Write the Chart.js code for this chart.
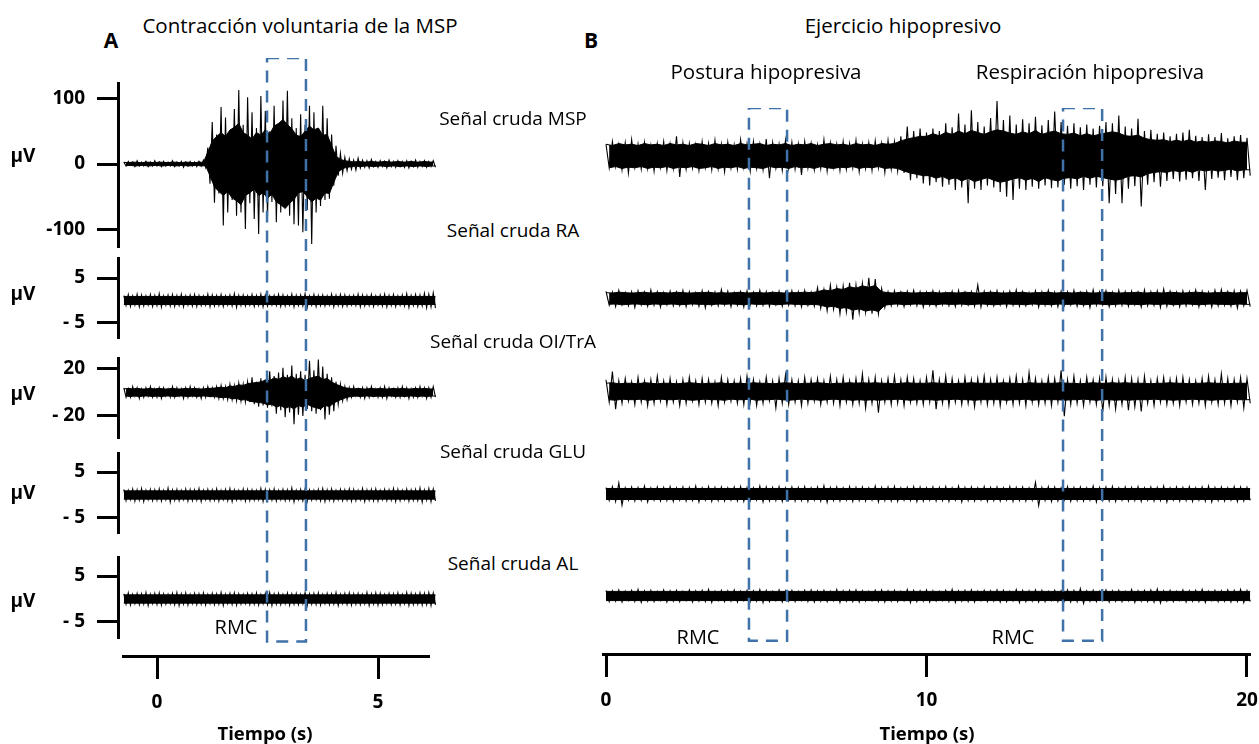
<!DOCTYPE html>
<html>
<head>
<meta charset="utf-8">
<script src="https://cdn.jsdelivr.net/npm/chart.js@4.4.0/dist/chart.umd.min.js"></script>
<style>
body { margin: 0; background: #fff; }
#fig { position: relative; width: 1259px; height: 744px; overflow: hidden; background: #fff; }
#fig canvas { position: absolute; }
.lbl { position: absolute; transform: translate(-50%, -50%); line-height: 1; white-space: nowrap; color: #000; font-family: 'Open Sans', sans-serif; }
</style>
</head>
<body>
<div id="fig"></div>
<script>
// time grid of the traces
const tA0 = -0.75, dtA = 0.1;   // panel A, 71 bins
const tB0 = 0, dtB = 0.2;       // panel B, 101 bins

// Panel A - contraccion voluntaria (uV)
// *Core / *Band = dense part of the signal, *Hi / *Lo / *Amp = spike tips
const mspACore = [2.5,2,3,2.5,2,3,2.5,2,3,2.5,2,3,2.5,2,3,2.5,2,3,2.5,
  18,35,42,48,42,52,56,62,48,44,38,48,44,52,46,58,62,68,60,54,44,42,50,58,52,55,44,45,28,12,7,5,
  4,3,4,3,3,4,3,3,4,3,3,4,3,3,4,3,3,4,3,3];
const mspAHi = [3,4,3,5,3,4,3,5,3,4,3,5,3,4,3,4,3,4,6,
  25,64,45,87,71,52,84,113,60,102,79,55,104,81,50,89,62,97,112,70,55,76,60,89,79,55,89,70,45,28,16,10,8,6,9,
  6,5,7,4,5,4,6,4,5,4,5,4,6,4,5,4,5];
const mspALo = [-3,-2,-4,-3,-3,-4,-3,-3,-4,-3,-3,-4,-3,-5,-3,-3,-4,-3,-5,
  -30,-59,-45,-94,-74,-55,-79,-74,-99,-60,-84,-107,-74,-79,-58,-89,-74,-60,-79,-92,-94,-104,-70,-122,-74,-64,-55,-53,-33,-18,-14,-10,-8,-9,-6,
  -5,-6,-4,-5,-4,-6,-4,-5,-4,-5,-6,-4,-5,-4,-5,-4,-5];
const raABand = 0.9;
const raAAmp = [1.1,1.3,1.0,1.4,1.2,1.0,1.3,1.1,1.5,1.0,
  1.2,1.3,1.1,1.4,1.0,1.2,1.3,1.1,1.0,1.4,
  1.2,1.1,1.3,1.0,1.2,1.5,1.1,1.2,1.0,1.3,
  1.1,1.4,1.2,1.0,1.1,1.3,1.2,1.0,1.4,1.1,
  1.2,1.5,1.0,1.3,1.1,1.2,1.0,1.4,1.1,1.3,
  1.2,1.0,1.1,1.4,1.2,1.1,1.3,1.0,1.2,1.4,
  1.1,1.3,1.0,1.2,1.5,1.1,1.3,1.2,1.6,1.4,1.7];
const oiACore = [3,3.5,3,3.5,3,3,3.5,3,3.5,3,3,3.5,3,3,3.5,3,3.5,3,3,3.5,3.5,
  4,4.5,4,5.5,5,6.5,6,7.5,8,8.5,9,10.5,10,12.5,11,13.5,12,14,11,12.5,10,12,13,14,11,12,9,7,5.5,4,
  3.5,3,3.5,3,3,3.5,3,3.5,3,3,3.5,3,3.5,3,3,3.5,3,3.5,3,3];
const oiAHi = [4,3,5,4,3,4,5,3,4,4,3,5,4,3,4,5,4,3,4,5,4,
  5,6,5,7,6,8,7,9,13,9,12,11,18,14,17,21,15,23,16,18,15,27,19,28,22,16,13,9,7,5,
  4,5,3,4,4,5,3,4,5,4,3,4,5,4,3,4,5,4,4,5];
const oiALo = [-4,-4,-3,-5,-4,-3,-4,-4,-5,-3,-4,-4,-3,-5,-4,-3,-4,-5,-4,-3,-4,
  -5,-5,-6,-6,-7,-7,-8,-8,-10,-12,-11,-13,-12,-18,-15,-21,-17,-27,-19,-20,-14,-16,-18,-15,-23,-19,-16,-10,-7,-6,
  -4,-3,-4,-5,-4,-3,-4,-4,-5,-3,-4,-4,-3,-5,-4,-4,-3,-5,-4,-4];
const gluABand = 0.9;
const gluAAmp = [1.2,1.0,1.3,1.1,1.4,1.0,1.2,1.1,1.3,1.0,
  1.5,1.1,1.2,1.0,1.3,1.2,1.1,1.4,1.0,1.2,
  1.1,1.3,1.0,1.2,1.4,1.1,1.0,1.3,1.2,1.1,
  1.0,1.4,1.2,1.1,1.3,1.0,1.2,1.1,1.5,1.0,
  1.2,1.3,1.1,1.0,1.2,1.4,1.1,1.3,1.0,1.2,
  1.1,1.3,1.2,1.0,1.4,1.1,1.2,1.3,1.0,1.2,
  1.1,1.4,1.2,1.0,1.3,1.1,1.2,1.5,1.1,1.4,1.3];
const alABand = 0.9;
const alAAmp = [1.1,1.3,1.0,1.2,1.1,1.4,1.0,1.2,1.3,1.1,
  1.0,1.2,1.4,1.1,1.3,1.0,1.2,1.1,1.3,1.0,
  1.2,1.1,1.4,1.0,1.2,1.3,1.1,1.0,1.2,1.1,
  1.3,1.0,1.2,1.4,1.1,1.2,1.0,1.3,1.1,1.2,
  1.0,1.4,1.1,1.2,1.3,1.0,1.2,1.1,1.4,1.0,
  1.2,1.3,1.1,1.2,1.0,1.4,1.1,1.3,1.2,1.0,
  1.2,1.1,1.3,1.0,1.4,1.2,1.1,1.3,1.2,1.4,1.3];

// Panel B - ejercicio hipopresivo (uV)
const mspBCore = [18,16,19,17,18,16,19,17,18,16,
  19,17,18,16,19,18,16,19,17,18,
  16,19,17,18,19,16,18,17,19,16,
  18,17,19,16,18,19,17,18,16,19,
  17,18,16,19,18,19,23,26,28,30,
  30,34,31,36,33,38,34,39,36,33,
  37,40,38,35,33,37,34,39,33,36,
  38,34,33,35,31,34,31,33,35,37,
  35,31,30,32,27,25,24,25,22,24,
  22,25,21,23,21,23,22,20,23,21,21];
const mspBHi = [18,22,17,20,25,18,21,16,19,22,
  18,30,20,19,17,22,19,24,18,21,
  17,25,19,22,18,26,20,18,24,21,
  18,22,19,17,25,20,18,22,19,24,
  18,20,23,19,24,22,30,45,38,42,
  36,42,38,50,44,65,48,70,52,45,
  58,84,55,62,48,56,50,60,47,55,
  68,52,46,50,44,48,42,46,52,50,
  62,45,42,57,38,40,34,36,30,34,
  36,40,31,29,33,29,35,27,30,32,28];
const mspBLo = [-18,-16,-21,-26,-17,-20,-19,-23,-17,-22,
  -19,-32,-20,-18,-22,-17,-21,-19,-24,-18,
  -20,-17,-23,-19,-21,-34,-18,-22,-19,-20,
  -29,-18,-21,-19,-23,-17,-22,-20,-18,-24,
  -19,-22,-18,-25,-20,-23,-26,-37,-34,-42,
  -45,-40,-47,-44,-52,-48,-72,-50,-52,-45,
  -48,-55,-62,-67,-50,-52,-47,-50,-45,-49,
  -48,-44,-50,-46,-52,-44,-48,-46,-72,-58,
  -72,-50,-46,-77,-44,-40,-47,-38,-35,-39,
  -36,-34,-38,-52,-35,-33,-37,-32,-37,-34,-30];
const raBCore = [1.3,1.2,1.4,1.3,1.2,1.3,1.4,1.2,1.3,1.3,
  1.2,1.4,1.3,1.2,1.3,1.3,1.4,1.2,1.3,1.2,
  1.3,1.4,1.2,1.3,1.3,1.2,1.4,1.3,1.2,1.3,
  1.3,1.4,1.3,1.5,1.9,1.7,2.2,2.0,2.6,2.3,
  2.8,2.5,2.9,1.5,1.3,1.2,1.4,1.3,1.2,1.3,
  1.3,1.4,1.2,1.3,1.3,1.2,1.4,1.3,1.2,1.3,
  1.4,1.3,1.2,1.3,1.3,1.4,1.2,1.3,1.3,1.4,
  1.2,1.3,1.3,1.2,1.4,1.3,1.2,1.3,1.4,1.3,
  1.2,1.3,1.3,1.4,1.2,1.3,1.3,1.2,1.4,1.3,
  1.2,1.3,1.4,1.3,1.2,1.3,1.3,1.4,1.2,1.3,1.3];
const raBHi = [1.6,1.4,1.8,1.3,1.5,1.7,1.4,1.9,1.5,1.3,
  1.6,1.4,1.8,1.5,1.3,1.7,1.5,1.4,2.0,1.6,
  1.3,1.5,1.7,1.4,1.8,1.5,1.3,1.6,1.4,1.7,
  1.5,1.8,1.4,2.4,2.0,3.0,2.5,2.8,3.5,3.0,
  3.4,4.6,4.3,2.2,1.5,1.7,1.4,1.6,1.8,1.5,
  1.4,1.7,1.5,1.3,1.6,1.8,1.4,1.5,3.0,1.6,
  1.5,1.7,1.4,1.6,1.9,1.5,1.3,1.7,1.5,1.8,
  1.4,1.6,1.5,1.8,1.3,1.6,1.9,1.5,1.7,1.4,
  1.8,1.5,1.6,1.4,1.9,1.5,1.7,2.1,1.6,1.4,
  1.7,1.5,1.9,1.6,1.4,1.8,2.0,1.5,1.7,1.6,1.8];
const raBLo = [-1.5,-1.8,-1.4,-1.6,-2.0,-1.4,-1.7,-1.5,-1.9,-1.4,
  -1.6,-1.5,-1.8,-1.4,-1.7,-2.1,-1.5,-1.6,-1.4,-1.8,
  -1.5,-1.9,-1.4,-1.6,-1.5,-1.8,-1.4,-1.7,-1.5,-1.6,
  -1.9,-1.5,-1.7,-2.2,-2.7,-2.4,-3.4,-3.0,-4.7,-3.2,
  -3.0,-3.4,-3.4,-2.0,-1.6,-1.5,-1.8,-1.4,-1.6,-1.9,
  -1.5,-1.7,-1.4,-1.6,-1.8,-1.5,-1.4,-1.7,-1.9,-1.5,
  -1.6,-1.4,-1.8,-1.5,-1.7,-1.6,-1.4,-1.9,-1.5,-1.6,
  -1.8,-1.5,-1.4,-1.7,-1.6,-2.0,-1.5,-1.4,-1.8,-1.6,
  -1.5,-1.7,-1.4,-1.9,-1.6,-1.5,-2.0,-1.7,-1.5,-1.8,
  -1.6,-1.4,-1.8,-1.5,-1.9,-1.6,-1.5,-1.7,-2.1,-1.6,-1.8];
const oiBCore = [7,7.5,6.5,7,7,6.5,7.5,7,6.5,7,
  7,6.5,7,7.5,7,6.5,7,7,7.5,6.5,
  7,7,6.5,7.5,7,7,6.5,7,7.5,7,
  6.5,7,7,7.5,7,6.5,7,7,7.5,7,
  7.5,7,7.5,7,7,6.5,7,7.5,7,7,
  7,7.5,7,7,6.5,7,7,7.5,7,7,
  7,7,7.5,7,7,6.5,7.5,7,7,7,
  7,7.5,7,7,6.5,7,7.5,7,7,7.5,
  7,7.5,7,7,7,6.5,7,7,7.5,7,
  7,6.5,7,7,7.5,7,7,6.5,7,7,7];
const oiBHi = [10,17,9,11,8,12,9,10,13,9,
  11,8,10,12,9,11,10,8,12,10,
  9,11,13,10,8,12,9,11,14,10,
  9,12,10,11,9,13,10,12,9,11,
  15,10,12,9,11,13,10,12,11,9,
  12,18,10,13,11,9,12,10,11,13,
  10,12,9,11,13,10,16,11,9,12,
  11,18,10,13,9,12,10,11,12,10,
  9,12,11,10,13,9,11,12,10,11,
  12,10,9,11,13,10,15,11,10,12,11];
const oiBLo = [-9,-15,-10,-8,-11,-9,-12,-10,-8,-11,
  -9,-12,-10,-8,-11,-9,-10,-12,-9,-8,
  -10,-11,-9,-12,-10,-8,-14,-10,-11,-9,
  -12,-10,-8,-11,-9,-10,-12,-9,-11,-10,
  -14,-10,-18,-9,-11,-10,-12,-9,-10,-11,
  -9,-15,-10,-12,-9,-11,-10,-13,-9,-11,
  -10,-12,-9,-11,-10,-12,-9,-11,-10,-12,
  -9,-21,-11,-10,-12,-9,-11,-17,-12,-15,
  -11,-16,-13,-17,-10,-12,-9,-11,-10,-12,
  -9,-11,-10,-12,-9,-11,-10,-12,-9,-14,-10];
const gluBBand = 1.2;
const gluBAmp = [1.4,1.6,2.4,1.3,1.5,1.4,1.7,1.3,1.5,1.4,
  1.6,1.3,1.5,1.4,1.7,1.3,1.6,1.4,1.5,1.3,
  1.5,1.6,1.4,1.3,1.7,1.5,1.4,1.6,1.3,1.5,
  1.4,1.6,1.3,1.5,1.8,1.4,1.5,1.3,1.6,1.4,
  1.5,1.3,1.7,1.4,1.5,1.6,1.3,1.4,1.6,1.5,
  1.3,1.5,1.4,1.6,1.3,1.7,1.4,1.5,1.3,1.6,
  1.4,1.5,1.3,1.6,1.4,1.5,1.3,2.5,1.4,1.6,
  1.5,1.3,1.6,1.4,1.5,1.3,1.7,1.4,1.5,1.6,
  1.3,1.5,1.4,1.6,1.3,1.5,1.4,1.7,1.3,1.5,
  1.4,1.6,1.3,1.5,1.7,1.4,1.5,1.3,1.6,1.5,1.4];
const alBBand = 1.0;
const alBAmp = [1.2,1.1,1.3,1.0,1.2,1.4,1.1,1.2,1.0,1.3,
  1.1,1.2,1.0,1.3,1.1,1.2,1.4,1.0,1.2,1.1,
  1.3,1.0,1.2,1.1,1.4,1.2,1.0,1.3,1.1,1.2,
  1.0,1.2,1.3,1.1,1.2,1.0,1.4,1.1,1.2,1.3,
  1.1,1.0,1.2,1.3,1.1,1.2,1.0,1.4,1.2,1.1,
  1.3,1.1,1.0,1.2,1.4,1.1,1.2,1.3,1.0,1.2,
  1.1,1.3,1.2,1.0,1.4,1.2,1.1,1.3,1.2,1.0,
  1.2,1.1,1.3,1.2,1.6,1.1,1.2,1.0,1.3,1.1,
  1.2,1.0,1.4,1.1,1.2,1.3,1.5,1.1,1.2,1.0,
  1.3,1.1,1.2,1.4,1.0,1.2,1.1,1.3,1.2,1.4,1.2];

// ticks, windows (s) and texts
const mspTicks = [100, 0, -100], mspTickLabels = ['100', '0', '-100'];
const smallTicks = [5, -5], smallTickLabels = ['5', '- 5'];
const oiTicks = [20, -20], oiTickLabels = ['20', '- 20'];
const timeTicksA = [0, 5], timeTicksB = [0, 10, 20];
const rmcA = [[2.49, 3.37]];
const rmcB = [[4.46, 5.65], [14.26, 15.48]];
const rowNames = ['Señal cruda MSP', 'Señal cruda RA', 'Señal cruda OI/TrA', 'Señal cruda GLU', 'Señal cruda AL'];

const fig = document.getElementById('fig');
const boldFont = { family: 'Open Sans', weight: 'bold', size: 19 };

// pixel mapping of the time axes
const zeroA = 157, pxSecA = 44.2;
const zeroB = 606, pxSecB = 32.05;

function addCanvas(left, top, w, h) {
  const c = document.createElement('canvas');
  c.width = w; c.height = h;
  c.style.left = left + 'px'; c.style.top = top + 'px';
  c.style.width = w + 'px'; c.style.height = h + 'px';
  fig.appendChild(c);
  return c;
}

// dense part: filled between +core and -core (array per bin, or one level)
function band(o) {
  if (Array.isArray(o.core)) {
    return [
      o.core.map((v, i) => ({ x: o.t0 + i * o.dt, y: v })),
      o.core.map((v, i) => ({ x: o.t0 + i * o.dt + o.dt / 2, y: -v }))
    ];
  }
  const tEnd = o.t0 + (o.hi.length - 0.5) * o.dt;
  return [
    [{ x: o.t0, y: o.core }, { x: tEnd, y: o.core }],
    [{ x: o.t0, y: -o.core }, { x: tEnd, y: -o.core }]
  ];
}

// spikes: one high and one low sample per bin
function trace(t0, dt, hi, lo) {
  const pts = [];
  hi.forEach((v, i) => {
    const t = t0 + i * dt;
    pts.push({ x: t, y: v });
    pts.push({ x: t + dt / 2, y: lo ? lo[i] : -v });
  });
  return pts;
}

function rowChart(o) {
  const c = addCanvas(o.left, o.top, o.width, o.height);
  const y = { type: 'linear', min: o.min, max: o.max, display: !!o.ticks };
  if (o.ticks) {
    Object.assign(y, {
      position: 'left',
      afterFit: s => { s.width = o.axisW; s.paddingTop = 0; s.paddingBottom = 0; },
      afterBuildTicks: s => { s.ticks = o.ticks.map(v => ({ value: v })); },
      ticks: { callback: (v, i) => o.labels[i], color: '#000', font: boldFont, padding: 12 },
      grid: { drawOnChartArea: false, tickLength: 21, tickWidth: 3, tickColor: '#000' },
      border: { display: true, width: 3, color: '#000' }
    });
  }
  const [up, dn] = band(o);
  const datasets = [
    { data: up, borderColor: '#000', backgroundColor: '#000', borderWidth: 1, pointRadius: 0, tension: 0, fill: '+1' },
    { data: dn, borderColor: '#000', borderWidth: 1, pointRadius: 0, tension: 0, fill: false },
    { data: trace(o.t0, o.dt, o.hi, o.lo), borderColor: '#000', borderWidth: 1.1, pointRadius: 0, tension: 0, fill: false }
  ];
  new Chart(c, {
    type: 'line',
    data: { datasets },
    options: {
      responsive: false, animation: false, events: [],
      plugins: { legend: { display: false }, tooltip: { enabled: false } },
      layout: { padding: 0 },
      scales: { x: { type: 'linear', display: false, min: o.xmin, max: o.xmax }, y: y }
    }
  });
}

function frameChart(o) {
  const c = addCanvas(o.left, o.top, o.width, o.height);
  const datasets = o.windows.map(([a, b]) => ({
    data: [{ x: a, y: 1 }, { x: b, y: 1 }, { x: b, y: 0 }, { x: a, y: 0 }, { x: a, y: 1 }],
    borderColor: '#3f72a9', borderWidth: 2.5, borderDash: [12, 8],
    pointRadius: 0, tension: 0, fill: false, clip: false
  }));
  new Chart(c, {
    type: 'line',
    data: { datasets },
    options: {
      responsive: false, animation: false, events: [],
      plugins: { legend: { display: false }, tooltip: { enabled: false } },
      layout: { padding: { left: o.padL, right: o.padR, top: 0, bottom: 0 } },
      scales: {
        x: {
          type: 'linear', position: 'bottom', min: o.xmin, max: o.xmax,
          afterFit: s => { s.height = o.axisH; s.paddingLeft = 0; s.paddingRight = 0; },
          afterBuildTicks: s => { s.ticks = o.ticks.map(v => ({ value: v })); },
          ticks: { callback: v => String(v), color: '#000', font: boldFont, padding: 12, maxRotation: 0, autoSkip: false },
          grid: { drawOnChartArea: false, tickLength: 23, tickWidth: 3, tickColor: '#000' },
          border: { display: true, width: 3, color: '#000' }
        },
        y: { type: 'linear', display: false, min: -0.025, max: 1 }
      }
    }
  });
}

function label(text, x, y, size, bold) {
  const d = document.createElement('div');
  d.className = 'lbl';
  d.textContent = text;
  d.style.left = x + 'px'; d.style.top = y + 'px';
  d.style.fontSize = size + 'px';
  if (bold) d.style.fontWeight = 'bold';
  fig.appendChild(d);
}

// panel A rows (with y axes)
const axisWA = 118, widthA = 440;
const xminA = (axisWA - zeroA) / pxSecA, xmaxA = (widthA - zeroA) / pxSecA;
const rowsA = [
  { top: 82, height: 166, min: -128.2, max: 125.2, core: mspACore, hi: mspAHi, lo: mspALo, ticks: mspTicks, labels: mspTickLabels },
  { top: 257, height: 82, min: -8.56, max: 9.67, core: raABand, hi: raAAmp, lo: null, ticks: smallTicks, labels: smallTickLabels },
  { top: 357, height: 82, min: -39.6, max: 30.2, core: oiACore, hi: oiAHi, lo: oiALo, ticks: oiTicks, labels: oiTickLabels },
  { top: 452, height: 82, min: -8.48, max: 9.35, core: gluABand, hi: gluAAmp, lo: null, ticks: smallTicks, labels: smallTickLabels },
  { top: 556, height: 83, min: -8.70, max: 9.35, core: alABand, hi: alAAmp, lo: null, ticks: smallTicks, labels: smallTickLabels }
];
rowsA.forEach(r => rowChart(Object.assign({
  left: 0, width: widthA, xmin: xminA, xmax: xmaxA, axisW: axisWA, t0: tA0, dt: dtA
}, r)));

// panel B rows (no y axes, same uV scales)
const leftB = 600, widthB = 659;
const xminB = (leftB - zeroB) / pxSecB, xmaxB = (leftB + widthB - zeroB) / pxSecB;
const rowsB = [
  { top: 74, height: 166, min: -128.2, max: 125.2, core: mspBCore, hi: mspBHi, lo: mspBLo },
  { top: 255, height: 82, min: -8.56, max: 9.67, core: raBCore, hi: raBHi, lo: raBLo },
  { top: 356, height: 82, min: -39.6, max: 30.2, core: oiBCore, hi: oiBHi, lo: oiBLo },
  { top: 451, height: 82, min: -8.48, max: 9.35, core: gluBBand, hi: gluBAmp, lo: null },
  { top: 553, height: 83, min: -8.70, max: 9.35, core: alBBand, hi: alBAmp, lo: null }
];
rowsB.forEach(r => rowChart(Object.assign({
  left: leftB, width: widthB, xmin: xminB, xmax: xmaxB, t0: tB0, dt: dtB
}, r)));

// time axes + RMC windows
frameChart({
  left: 0, top: 58, width: 440, height: 686, padL: 123, padR: 11, axisH: 88,
  xmin: (123 - zeroA) / pxSecA, xmax: (429 - zeroA) / pxSecA, ticks: timeTicksA, windows: rmcA
});
frameChart({
  left: 590, top: 108, width: 669, height: 636, padL: 13, padR: 9, axisH: 90,
  xmin: (603 - zeroB) / pxSecB, xmax: (1250 - zeroB) / pxSecB, ticks: timeTicksB, windows: rmcB
});

// texts
label('A', 111, 40, 21, true);
label('B', 591, 40, 21, true);
label('Contracción voluntaria de la MSP', 300, 25, 20.5);
label('Ejercicio hipopresivo', 903, 25, 20.5);
label('Postura hipopresiva', 766, 71, 20.5);
label('Respiración hipopresiva', 1090, 71, 20.5);
[118, 230, 341, 451, 563].forEach((y, i) => label(rowNames[i], 513, y, 19));
[155, 293, 393, 492, 600].forEach(y => label('µV', 23, y, 19, true));
label('RMC', 236, 627, 20);
label('RMC', 698, 637, 20);
label('RMC', 1013, 637, 20);
label('Tiempo (s)', 265, 733, 18.5, true);
label('Tiempo (s)', 927, 733, 18.5, true);
</script>
</body>
</html>
